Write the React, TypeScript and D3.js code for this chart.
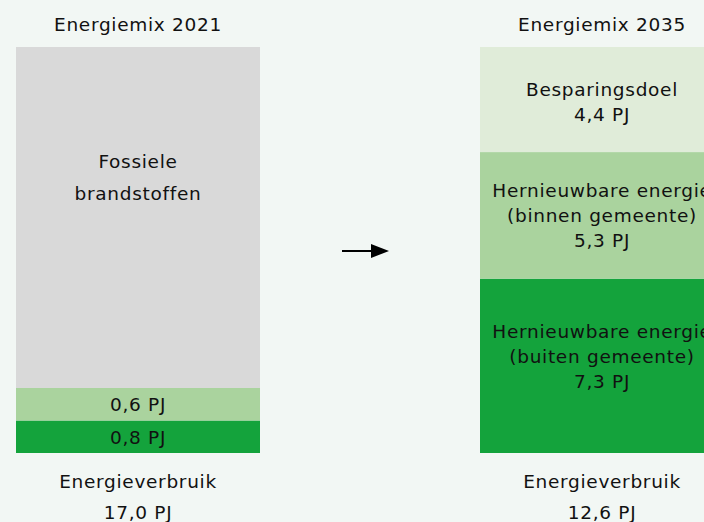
import React from "react";
import * as d3 from "d3";

const W = 704;
const H = 522;

const titles2021 = ["Energiemix 2021"];
const titles2035 = ["Energiemix 2035"];

// 2021 segments (bottom to top)
const mix2021Labels = ["0,8 PJ", "0,6 PJ", "Fossiele|brandstoffen"];
const mix2021Values = [0.8, 0.6, 15.6];
const mix2021Colors = ["#14a33c", "#aad39e", "#d9d9d9"];

// 2035 segments (bottom to top)
const mix2035Labels = [
  "Hernieuwbare energie|(buiten gemeente)|7,3 PJ",
  "Hernieuwbare energie|(binnen gemeente)|5,3 PJ",
  "Besparingsdoel|4,4 PJ",
];
const mix2035Values = [7.3, 5.3, 4.4];
const mix2035Colors = ["#14a33c", "#aad39e", "#e0ecd9"];

const totalLabels = ["Energieverbruik|17,0 PJ", "Energieverbruik|12,6 PJ"];

const FONT = "'DejaVu Sans', sans-serif";
// layout: vertical nudge for right-bar label blocks (bottom to top)
const rightLabelNudge = [-3, 6.5, 9];

export default function App() {
  const top = 47;
  const bottom = 453;
  const barW = 244;
  const minH = 32.5;
  const total = d3.sum(mix2021Values);
  const y = d3.scaleLinear().domain([0, total]).range([bottom, top]);

  const x = d3.scaleOrdinal<number, number>().domain([0, 1]).range([16, 480]);

  const leftSegs: { y0: number; y1: number; color: string; label: string; fossil: boolean }[] = [];
  let cur = bottom;
  mix2021Values.forEach((v, i) => {
    const isLast = i === mix2021Values.length - 1;
    const h = isLast ? cur - top : Math.max(bottom - y(v), minH);
    leftSegs.push({ y0: cur - h, y1: cur, color: mix2021Colors[i], label: mix2021Labels[i], fossil: isLast });
    cur -= h;
  });

  const rightSegs: { y0: number; y1: number; color: string; label: string }[] = [];
  let acc = 0;
  mix2035Values.forEach((v, i) => {
    const y1 = y(acc);
    acc += v;
    const y0 = y(acc);
    rightSegs.push({ y0, y1, color: mix2035Colors[i], label: mix2035Labels[i] });
  });

  const textStyle = { fontFamily: FONT, fontSize: 18.5, letterSpacing: 0.7, fill: "#111" };

  const lx = x(0) + barW / 2;
  const rx = x(1) + barW / 2;

  return (
    <svg width={W} height={H} style={{ position: "absolute", left: 0, top: 0, display: "block" }}>
      <rect x={0} y={0} width={W} height={H} fill="#f2f7f4" />
      <text x={lx} y={31} textAnchor="middle" {...textStyle}>{titles2021[0]}</text>
      <text x={rx} y={31} textAnchor="middle" {...textStyle}>{titles2035[0]}</text>

      {leftSegs.map((s, i) => {
        const lines = s.label.split("|");
        const baseY = s.fossil ? s.y0 + 121 : (s.y0 + s.y1) / 2 + 7;
        const lh = 32;
        return (
          <g key={"l" + i}>
            <rect x={x(0)} y={s.y0} width={barW} height={s.y1 - s.y0} fill={s.color} />
            {lines.map((t, j) => (
              <text key={j} x={lx} y={baseY + j * lh} textAnchor="middle" {...textStyle}>{t}</text>
            ))}
          </g>
        );
      })}

      {rightSegs.map((s, i) => {
        const lines = s.label.split("|");
        const lh = 25;
        const mid = (s.y0 + s.y1) / 2;
        const baseY = mid - ((lines.length - 1) * lh) / 2 + rightLabelNudge[i];
        return (
          <g key={"r" + i}>
            <rect x={x(1)} y={s.y0} width={barW} height={s.y1 - s.y0} fill={s.color} />
            {lines.map((t, j) => (
              <text key={j} x={rx} y={baseY + j * lh} textAnchor="middle" {...textStyle}>{t}</text>
            ))}
          </g>
        );
      })}

      {totalLabels.map((lab, i) =>
        lab.split("|").map((t, j) => (
          <text key={i + "-" + j} x={x(i) + barW / 2} y={488 + j * 31} textAnchor="middle" {...textStyle}>{t}</text>
        ))
      )}

      <line x1={342} y1={251} x2={373} y2={251} stroke="#000" strokeWidth={2} />
      <path d="M371,244 L389,251 L371,258 Z" fill="#000" />
    </svg>
  );
}
